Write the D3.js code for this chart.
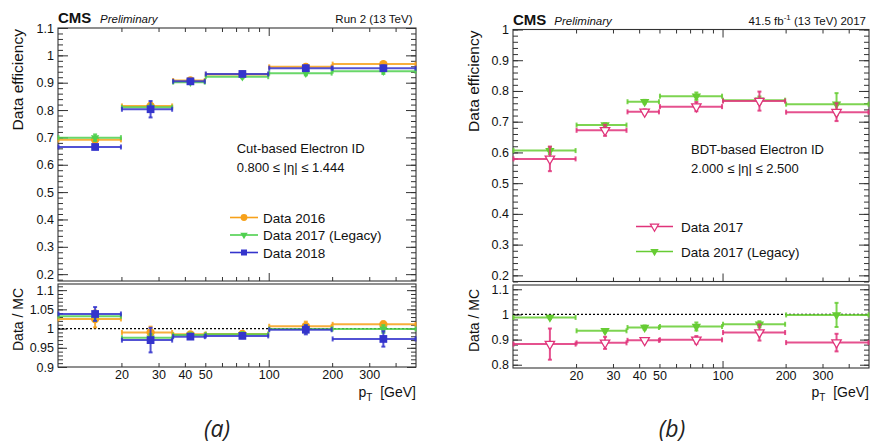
<!DOCTYPE html>
<html><head><meta charset="utf-8">
<script src="https://cdn.jsdelivr.net/npm/d3@7"></script>
<style>
body{margin:0;background:#fff;}
svg{display:block;font-family:"Liberation Sans",Arial,Helvetica,sans-serif;}
</style></head><body>
<svg id="c" width="872" height="444"></svg>
<script>
// pT binning (GeV)
const binEdges = [10, 20, 35, 50, 100, 200, 500];
const binCentres = [15, 27.5, 42.5, 75, 150, 350];
const xTicks = [20, 30, 40, 50, 60, 70, 80, 90, 100, 200, 300, 400];
const xTickLabels = [20, 30, 40, 50, 100, 200, 300];

// (a) Cut-based electron ID, 0.800 <= |eta| <= 1.444
const eff2016 = [0.691, 0.815, 0.908, 0.930, 0.958, 0.968];
const effErr2016 = [0.008, 0.012, 0.006, 0.005, 0.008, 0.006];
const eff2017L = [0.699, 0.810, 0.902, 0.922, 0.935, 0.942];
const effErr2017L = [0.012, 0.010, 0.006, 0.006, 0.008, 0.010];
const eff2018 = [0.665, 0.803, 0.905, 0.932, 0.953, 0.953];
const effErr2018 = [0.008, 0.030, 0.008, 0.006, 0.010, 0.010];
const ratio2016 = [1.025, 0.990, 0.985, 0.986, 1.006, 1.011];
const ratioErr2016 = [0.022, 0.015, 0.006, 0.006, 0.012, 0.008];
const ratio2017L = [1.032, 0.976, 0.983, 0.985, 0.999, 0.999];
const ratioErr2017L = [0.012, 0.010, 0.006, 0.006, 0.010, 0.010];
const ratio2018 = [1.038, 0.970, 0.979, 0.981, 0.997, 0.973];
const ratioErr2018 = [0.018, 0.032, 0.006, 0.006, 0.012, 0.020];
const effTicksA = [0.2, 0.3, 0.4, 0.5, 0.6, 0.7, 0.8, 0.9, 1, 1.1];
const ratioTicksA = [0.9, 0.95, 1, 1.05, 1.1];

// (b) BDT-based electron ID, 2.000 <= |eta| <= 2.500
const effB2017 = [0.579, 0.672, 0.732, 0.749, 0.767, 0.731];
const effErrB2017 = [0.040, 0.018, 0.008, 0.015, 0.031, 0.029];
const effB2017L = [0.606, 0.689, 0.765, 0.783, 0.770, 0.757];
const effErrB2017L = [0.012, 0.006, 0.006, 0.012, 0.012, 0.036];
const ratioB2017 = [0.882, 0.887, 0.897, 0.899, 0.928, 0.888];
const ratioErrB2017 = [0.062, 0.024, 0.008, 0.015, 0.032, 0.035];
const ratioB2017L = [0.988, 0.935, 0.948, 0.952, 0.961, 0.998];
const ratioErrB2017L = [0.006, 0.006, 0.008, 0.016, 0.012, 0.048];
const effTicksB = [0.2, 0.3, 0.4, 0.5, 0.6, 0.7, 0.8, 0.9, 1];
const ratioTicksB = [0.8, 0.9, 1, 1.1];

const svg = d3.select("#c");
const fmt = d => String(+d.toFixed(3));

function symbolPath(kind, size) {
  const t = {circle: d3.symbolCircle, square: d3.symbolSquare, tri: d3.symbolTriangle}[kind];
  return d3.symbol().type(t).size(size)();
}

function tickAxis(g, gen, scale, values, len) {
  g.call(gen(scale).tickValues(values).tickSize(-len).tickFormat(""));
  g.select(".domain").remove();
  g.selectAll(".tick line").attr("stroke", "#333").attr("stroke-width", 1);
}

function drawSeries(g, x, y, s, vals, errs, markerSize) {
  const sg = g.append("g");
  const col = s.color;
  vals.forEach((v, i) => {
    const x0 = x(binEdges[i]), x1 = x(binEdges[i + 1]), xc = x(binCentres[i]);
    const yv = y(v), ylo = y(v - errs[i]), yhi = y(v + errs[i]);
    const line = (a, b, c, d) => sg.append("line").attr("x1", a).attr("y1", b).attr("x2", c).attr("y2", d)
      .attr("stroke", col).attr("stroke-width", 2).attr("stroke-opacity", 0.85);
    line(x0, yv, x1, yv);
    line(x0 + 0.5, yv - 2.5, x0 + 0.5, yv + 2.5);
    line(x1 - 0.5, yv - 2.5, x1 - 0.5, yv + 2.5);
    line(xc, yhi, xc, ylo);
    line(xc - 2, yhi, xc + 2, yhi);
    line(xc - 2, ylo, xc + 2, ylo);
  });
  vals.forEach((v, i) => {
    const p = sg.append("path").attr("d", symbolPath(s.marker, markerSize[s.marker]))
      .attr("transform", `translate(${x(binCentres[i])},${y(v)})` + (s.marker === "tri" ? " rotate(180)" : ""));
    if (s.open) p.attr("fill", "#fff").attr("stroke", col).attr("stroke-width", 1.3);
    else p.attr("fill", col);
  });
}

function drawPanel(P) {
  const g = svg.append("g");
  const x = d3.scaleLog().domain([binEdges[0], binEdges[binEdges.length - 1]]).range(P.xRange);
  const yTop = d3.scaleLinear().domain(P.topDomain).range(P.topRange);
  const yRat = d3.scaleLinear().domain(P.ratDomain).range(P.ratRange);
  const [L, R] = P.xRange;

  // frames
  [[yTop, P.topRange], [yRat, P.ratRange]].forEach(([s, r]) => {
    g.append("rect").attr("x", L).attr("y", r[1]).attr("width", R - L).attr("height", r[0] - r[1])
      .attr("fill", "none").attr("stroke", "#333").attr("stroke-width", 1.1);
  });

  // y ticks, upper pad
  const tA = g.append("g").attr("transform", `translate(${L},0)`);
  tickAxis(tA.append("g"), d3.axisLeft, yTop, P.topMinor, 5);
  tA.append("g").call(d3.axisLeft(yTop).tickValues(P.topTicks).tickSize(-10).tickPadding(4).tickFormat(fmt))
    .call(a => { a.select(".domain").remove(); a.selectAll(".tick line").attr("stroke", "#333");
      a.selectAll("text").attr("font-size", 12.5).attr("fill", "#111").attr("font-family", "Liberation Sans"); });
  const tB = g.append("g").attr("transform", `translate(${R},0)`);
  tickAxis(tB.append("g"), d3.axisRight, yTop, P.topMinor, 5);
  tickAxis(tB.append("g"), d3.axisRight, yTop, P.topTicks, 10);

  // y ticks, ratio pad
  const rA = g.append("g").attr("transform", `translate(${L},0)`);
  tickAxis(rA.append("g"), d3.axisLeft, yRat, P.ratMinor, 5);
  rA.append("g").call(d3.axisLeft(yRat).tickValues(P.ratTicks).tickSize(-9).tickPadding(4).tickFormat(fmt))
    .call(a => { a.select(".domain").remove(); a.selectAll(".tick line").attr("stroke", "#333");
      a.selectAll("text").attr("font-size", 12.5).attr("fill", "#111").attr("font-family", "Liberation Sans"); });
  const rB = g.append("g").attr("transform", `translate(${R},0)`);
  tickAxis(rB.append("g"), d3.axisRight, yRat, P.ratMinor, 5);
  tickAxis(rB.append("g"), d3.axisRight, yRat, P.ratTicks, 9);

  // x ticks
  const minorX = xTicks.filter(v => v !== 100), majorX = [100];
  const xt = g.append("g").attr("transform", `translate(0,${P.topRange[1]})`);
  tickAxis(xt.append("g"), d3.axisTop, x, minorX, 4);
  tickAxis(xt.append("g"), d3.axisTop, x, majorX, 8);
  const xb = g.append("g").attr("transform", `translate(0,${P.topRange[0]})`);
  tickAxis(xb.append("g"), d3.axisBottom, x, minorX, 4);
  tickAxis(xb.append("g"), d3.axisBottom, x, majorX, 8);
  const xr = g.append("g").attr("transform", `translate(0,${P.ratRange[0]})`);
  tickAxis(xr.append("g"), d3.axisBottom, x, minorX, 4);
  tickAxis(xr.append("g"), d3.axisBottom, x, majorX, 7);
  xr.append("g").call(d3.axisBottom(x).tickValues(xTickLabels).tickSize(0).tickPadding(3).tickFormat(d3.format("d")))
    .call(a => { a.select(".domain").remove();
      a.selectAll("text").attr("font-size", 12.5).attr("fill", "#111").attr("font-family", "Liberation Sans"); });

  // unity line in ratio pad
  g.append("line").attr("x1", L).attr("x2", R).attr("y1", yRat(1)).attr("y2", yRat(1))
    .attr("stroke", "#000").attr("stroke-width", 1.2).attr("stroke-dasharray", "2,2");

  // data
  P.series.forEach(s => drawSeries(g, x, yTop, s, s.eff, s.effErr, P.markerSize));
  P.series.forEach(s => drawSeries(g, x, yRat, s, s.ratio, s.ratioErr, P.markerSize));

  // axis titles
  g.append("text").attr("transform", `translate(${P.yTitleX},${P.topRange[1] + 1}) rotate(-90)`)
    .attr("text-anchor", "end").attr("font-size", 15.5).attr("fill", "#111").text("Data efficiency");
  g.append("text").attr("transform", `translate(${P.yTitleX},${P.ratRange[1] + 4}) rotate(-90)`)
    .attr("text-anchor", "end").attr("font-size", 14).attr("fill", "#111").text("Data / MC");
  const xt2 = g.append("text").attr("x", R).attr("y", P.xTitleY).attr("text-anchor", "end")
    .attr("font-size", 14).attr("fill", "#111");
  xt2.append("tspan").text("p");
  xt2.append("tspan").attr("dy", 4).attr("font-size", 10).text("T");
  xt2.append("tspan").attr("dy", -4).attr("xml:space", "preserve").text("\u00a0\u00a0[GeV]");

  // header
  g.append("text").attr("x", L).attr("y", P.headY).attr("font-weight", "bold").attr("font-size", 15)
    .attr("fill", "#111").text("CMS");
  g.append("text").attr("x", P.prelimX).attr("y", P.headY).attr("font-style", "italic").attr("font-size", 11.5)
    .attr("fill", "#111").text("Preliminary");
  const hr = g.append("text").attr("x", P.headRightX).attr("y", P.headY).attr("text-anchor", "end")
    .attr("font-size", 11.5).attr("fill", "#111");
  P.headRight(hr);

  // annotation
  P.notes.forEach((t, i) => g.append("text").attr("x", P.noteX).attr("y", P.noteY[i])
    .attr("font-size", 13).attr("fill", "#111").text(t));

  // legend
  P.series.forEach((s, i) => {
    const yy = P.legY[i];
    g.append("line").attr("x1", P.legX[0]).attr("x2", P.legX[1]).attr("y1", yy).attr("y2", yy)
      .attr("stroke", s.color).attr("stroke-width", 1.6);
    const m = g.append("path").attr("d", symbolPath(s.marker, P.legMarkerSize[s.marker]))
      .attr("transform", `translate(${(P.legX[0] + P.legX[1]) / 2},${yy})` + (s.marker === "tri" ? " rotate(180)" : ""));
    if (s.open) m.attr("fill", "#fff").attr("stroke", s.color).attr("stroke-width", 1.2);
    else m.attr("fill", s.color);
    g.append("text").attr("x", P.legTextX).attr("y", yy + 5).attr("font-size", 13.5).attr("fill", "#111").text(s.name);
  });

  // caption
  g.append("text").attr("x", P.capX).attr("y", 437).attr("text-anchor", "middle")
    .attr("font-family", "'Open Sans', 'DejaVu Sans', sans-serif").attr("font-style", "italic")
    .attr("font-size", 23).attr("fill", "#222").text(P.caption);
}

drawPanel({
  xRange: [58, 416],
  topDomain: [0.175, 1.1], topRange: [281, 28],
  ratDomain: [0.9, 1.116], ratRange: [367, 284],
  topTicks: effTicksA, topMinor: d3.range(0.18, 1.101, 0.02),
  ratTicks: ratioTicksA, ratMinor: d3.range(0.9, 1.1161, 0.01),
  series: [
    {name: "Data 2016", color: "#f7a11a", marker: "circle", eff: eff2016, effErr: effErr2016, ratio: ratio2016, ratioErr: ratioErr2016},
    {name: "Data 2017 (Legacy)", color: "#4fd04f", marker: "tri", eff: eff2017L, effErr: effErr2017L, ratio: ratio2017L, ratioErr: ratioErr2017L},
    {name: "Data 2018", color: "#3434cc", marker: "square", eff: eff2018, effErr: effErr2018, ratio: ratio2018, ratioErr: ratioErr2018}
  ],
  markerSize: {circle: 55, square: 60, tri: 30},
  legMarkerSize: {circle: 36, square: 36, tri: 24},
  yTitleX: 23, xTitleY: 397,
  headY: 22.5, prelimX: 100, headRightX: 412.5,
  headRight: t => t.text("Run 2 (13 TeV)"),
  notes: ["Cut-based Electron ID", "0.800 \u2264 |\u03b7| \u2264 1.444"], noteX: 236.7, noteY: [152.5, 171.5],
  legX: [230, 258], legTextX: 263, legY: [217.5, 235, 252.5],
  capX: 217, caption: "(a)"
});

drawPanel({
  xRange: [513, 869],
  topDomain: [0.18, 1.0], topRange: [281.5, 29.5],
  ratDomain: [0.787, 1.117], ratRange: [368, 285],
  topTicks: effTicksB, topMinor: d3.range(0.18, 1.001, 0.02),
  ratTicks: ratioTicksB, ratMinor: d3.range(0.8, 1.1171, 0.02),
  series: [
    {name: "Data 2017 (Legacy)", color: "#66cc33", marker: "tri", eff: effB2017L, effErr: effErrB2017L, ratio: ratioB2017L, ratioErr: ratioErrB2017L},
    {name: "Data 2017", color: "#e0337a", marker: "tri", open: true, eff: effB2017, effErr: effErrB2017, ratio: ratioB2017, ratioErr: ratioErrB2017}
  ],
  markerSize: {tri: 38},
  legMarkerSize: {tri: 30},
  yTitleX: 479, xTitleY: 397,
  headY: 24.5, prelimX: 554.3, headRightX: 866,
  headRight: t => { t.append("tspan").text("41.5 fb");
    t.append("tspan").attr("dy", -5).attr("font-size", 8).text("-1");
    t.append("tspan").attr("dy", 5).text(" (13 TeV) 2017"); },
  notes: ["BDT-based Electron ID", "2.000 \u2264 |\u03b7| \u2264 2.500"], noteX: 691, noteY: [154, 173],
  legX: [636, 673], legTextX: 681, legY: [251.5, 226.5],
  capX: 672, caption: "(b)"
});
</script>
</body></html>
